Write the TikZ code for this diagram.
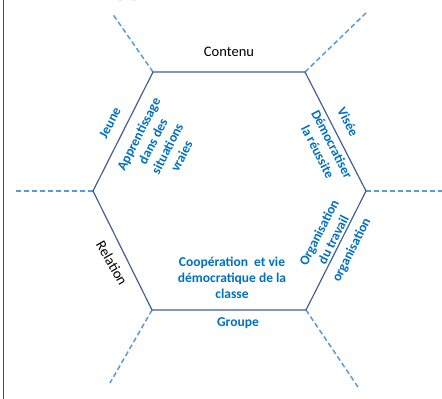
\documentclass[tikz,border=0pt]{standalone}
\usepackage{fontspec}
\setmainfont{Carlito}
\usetikzlibrary{calc}
\definecolor{bleutexte}{RGB}{0,112,192}
\definecolor{bleutrait}{RGB}{68,94,150}
\definecolor{bleutiret}{RGB}{91,155,213}
\begin{document}
\begin{tikzpicture}[x=1pt, y=-1pt,
	bord/.style = {thick, draw=bleutrait, line width=1.2pt},
	tiret/.style = {draw=bleutiret, line width=1.5pt, dash pattern=on 5pt off 3pt},
	etiq/.style = {inner sep=0pt, align=center, text=bleutexte, font=\fontsize{13.5}{16}\selectfont\bfseries},
	noir/.style = {inner sep=0pt, font=\fontsize{14.5}{17}\selectfont}]
	\useasboundingbox (0,0) rectangle (442,399);
	\draw [gray!60!black] (3,0) -- (3,399);
	\begin{scope}
		\clip (0,0) rectangle (442,399);
		\node [anchor=base, font=\fontsize{26}{26}\selectfont\bfseries] (titre) at (131,-4) {pp};
	\end{scope}
	% sommets de l'hexagone
	\coordinate (hg) at (153,72);
	\coordinate (hd) at (305,72);
	\coordinate (d) at (366,191);
	\coordinate (bd) at (306,310);
	\coordinate (bg) at (152,310);
	\coordinate (g) at (93,191);
	% bouts des tirets
	\coordinate (thg) at (112,13);
	\coordinate (thd) at (367,12);
	\coordinate (td) at (442,191);
	\coordinate (tbd) at (358,387);
	\coordinate (tbg) at (110,383);
	\coordinate (tg) at (15,191);
	\draw [tiret] (hg) -- (thg);
	\draw [tiret] (hd) -- (thd);
	\draw [tiret] (d) -- (td);
	\draw [tiret] (bd) -- (tbd);
	\draw [tiret] (bg) -- (tbg);
	\draw [tiret] (g) -- (tg);
	\draw [bord] (hg) -- (hd) -- (d) -- (bd) -- (bg) -- (g) -- cycle;
	% textes
	\node [noir] (contenu) at (229,52) {Contenu};
	\node [etiq, rotate=63] (jeune) at (110,123) {Jeune};
	\node [etiq, rotate=63] (apprent) at (160,145) {Apprentissage\\dans des\\situations\\vraies};
	\node [etiq, rotate=-63] (visee) at (348,122) {Visée};
	\node [etiq, rotate=-63] (democ) at (325,148) {Démocratiser\\la réussite};
	\node [etiq, rotate=63] (orgtrav) at (326,236) {Organisation\\du travail};
	\node [etiq, rotate=63] (org) at (352,250) {organisation};
	\node [noir, rotate=-60] (relation) at (112,263) {Relation};
	\node [etiq] (coop) at (232,278) {Coopération~ et vie\\démocratique de la\\classe};
	\node [etiq] (groupe) at (238,323) {Groupe};
\end{tikzpicture}
\end{document}
